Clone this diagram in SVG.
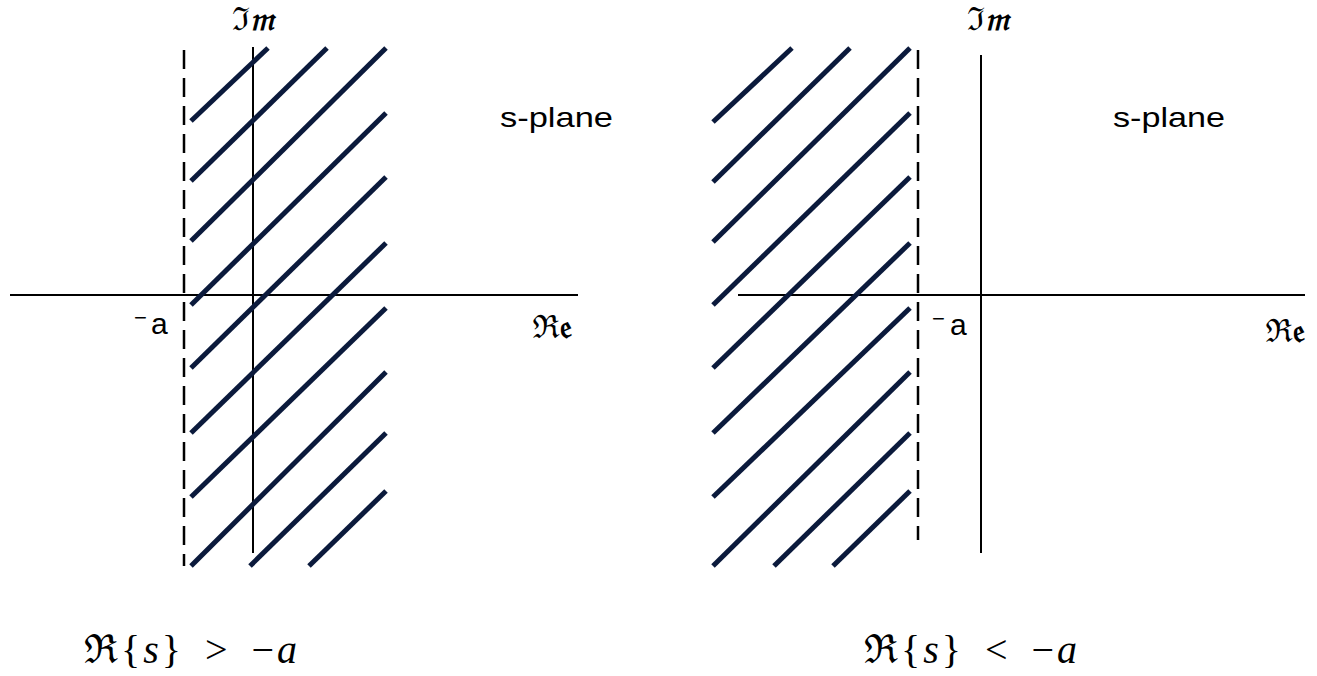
<svg xmlns="http://www.w3.org/2000/svg" width="1317" height="676" viewBox="0 0 1317 676">
<style>
.axis{stroke:#000;stroke-width:2;fill:none}
.dash{stroke:#000;stroke-width:2.5;stroke-dasharray:19 9;fill:none}
.hatch{stroke:#0b1a3c;stroke-width:5;fill:none}
.lbl{font-family:"Liberation Sans",Arial,sans-serif;fill:#000}
.frak{font-family:"DejaVu Serif","Noto Sans",serif;fill:#000;font-weight:bold}
.math{font-family:"Liberation Serif","DejaVu Serif",serif;fill:#000;font-size:40px;letter-spacing:3px;word-spacing:8px}
</style>
<rect width="1317" height="676" fill="#fff"/>
<g id="left-plane">
  <g id="left-axes">
    <line class="axis" x1="10" y1="295" x2="578" y2="295"/>
    <line class="axis" x1="253" y1="47" x2="253" y2="553"/>
    <line class="dash" x1="184" y1="50" x2="184" y2="566"/>
  </g>
  <g id="left-hatch">
    <line class="hatch" x1="191" y1="121" x2="268" y2="48"/>
    <line class="hatch" x1="191" y1="181" x2="327" y2="48"/>
    <line class="hatch" x1="191" y1="241" x2="386" y2="48"/>
    <line class="hatch" x1="191" y1="305" x2="386" y2="113"/>
    <line class="hatch" x1="191" y1="368" x2="386" y2="177"/>
    <line class="hatch" x1="191" y1="433" x2="386" y2="243"/>
    <line class="hatch" x1="191" y1="497" x2="386" y2="308"/>
    <line class="hatch" x1="191" y1="566" x2="386" y2="372"/>
    <line class="hatch" x1="250" y1="566" x2="386" y2="433"/>
    <line class="hatch" x1="309" y1="566" x2="386" y2="491"/>
  </g>
  <text class="frak" x="253" y="30" font-size="32" text-anchor="middle" font-style="italic">ℑ𝔪</text>
  <text class="frak" x="552" y="338" font-size="32" text-anchor="middle">ℜ𝔢</text>
  <text class="lbl" x="134" y="325" font-size="22">−</text>
  <text class="lbl" x="151" y="334" font-size="30">a</text>
  <text class="lbl" x="500" y="127" font-size="28" textLength="113" lengthAdjust="spacingAndGlyphs">s-plane</text>
  <text class="math" x="84" y="663">ℜ{<tspan font-style="italic">s</tspan>} &gt; −<tspan font-style="italic">a</tspan></text>
</g>
<g id="right-plane">
  <g id="right-axes">
    <line class="axis" x1="738" y1="295" x2="1305" y2="295"/>
    <line class="axis" x1="981" y1="55" x2="981" y2="553"/>
    <line class="dash" x1="918" y1="50" x2="918" y2="540"/>
  </g>
  <g id="right-hatch">
    <line class="hatch" x1="713" y1="122" x2="792" y2="48"/>
    <line class="hatch" x1="713" y1="182" x2="850" y2="48"/>
    <line class="hatch" x1="713" y1="242" x2="910" y2="48"/>
    <line class="hatch" x1="713" y1="305" x2="910" y2="113"/>
    <line class="hatch" x1="713" y1="368" x2="910" y2="177"/>
    <line class="hatch" x1="713" y1="433" x2="910" y2="243"/>
    <line class="hatch" x1="713" y1="497" x2="910" y2="308"/>
    <line class="hatch" x1="713" y1="566" x2="910" y2="372"/>
    <line class="hatch" x1="774" y1="566" x2="910" y2="433"/>
    <line class="hatch" x1="833" y1="566" x2="910" y2="491"/>
  </g>
  <text class="frak" x="988" y="30" font-size="32" text-anchor="middle" font-style="italic">ℑ𝔪</text>
  <text class="frak" x="1285" y="342" font-size="32" text-anchor="middle">ℜ𝔢</text>
  <text class="lbl" x="932" y="326" font-size="22">−</text>
  <text class="lbl" x="950" y="335" font-size="30">a</text>
  <text class="lbl" x="1113" y="127" font-size="28" textLength="112" lengthAdjust="spacingAndGlyphs">s-plane</text>
  <text class="math" x="864" y="663">ℜ{<tspan font-style="italic">s</tspan>} &lt; −<tspan font-style="italic">a</tspan></text>
</g>
</svg>
